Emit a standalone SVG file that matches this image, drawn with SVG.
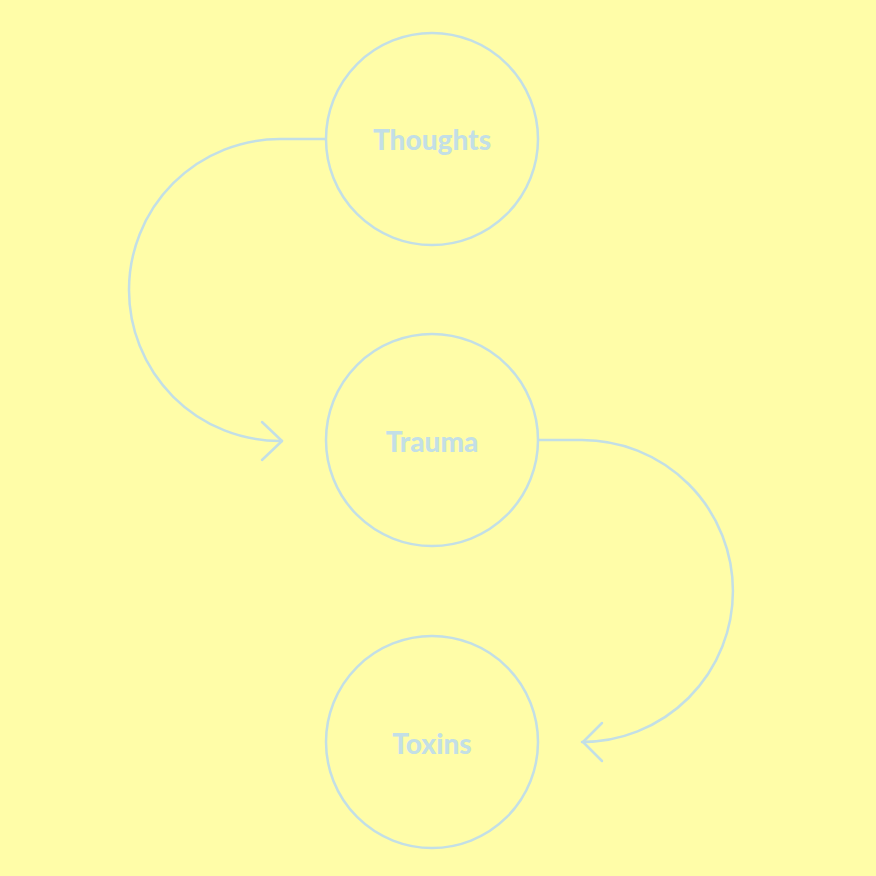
<svg xmlns="http://www.w3.org/2000/svg" width="876" height="876" viewBox="0 0 876 876">
<style>
.node{fill:none;stroke:#c3dfe6;stroke-width:2.5}
.lbl{fill:#c3dfe6;font-family:Lato,"Open Sans",sans-serif;font-weight:900;font-size:28px;text-anchor:middle;dominant-baseline:central}
.conn{fill:none;stroke:#c3dfe6;stroke-width:2.5;stroke-linecap:round;stroke-linejoin:round}
</style>
<rect width="876" height="876" fill="#fffda8"/>
<g id="connectors">
<path class="conn" d="M325,139 L280,139 A151,151 0 0 0 280,441 L282,441"/>
<path class="conn" d="M262,422 L282,441 L262,460"/>
<path class="conn" d="M539,440 L582,440 A151,151 0 0 1 582,742"/>
<path class="conn" d="M602,723 L583,742 L602,761"/>
</g>
<g id="thoughts"><circle class="node" cx="432" cy="139" r="106"/><text class="lbl" x="432" y="139">Thoughts</text></g>
<g id="trauma"><circle class="node" cx="432" cy="440" r="106"/><text class="lbl" x="432" y="441">Trauma</text></g>
<g id="toxins"><circle class="node" cx="432" cy="742" r="106"/><text class="lbl" x="432" y="743">Toxins</text></g>
</svg>
